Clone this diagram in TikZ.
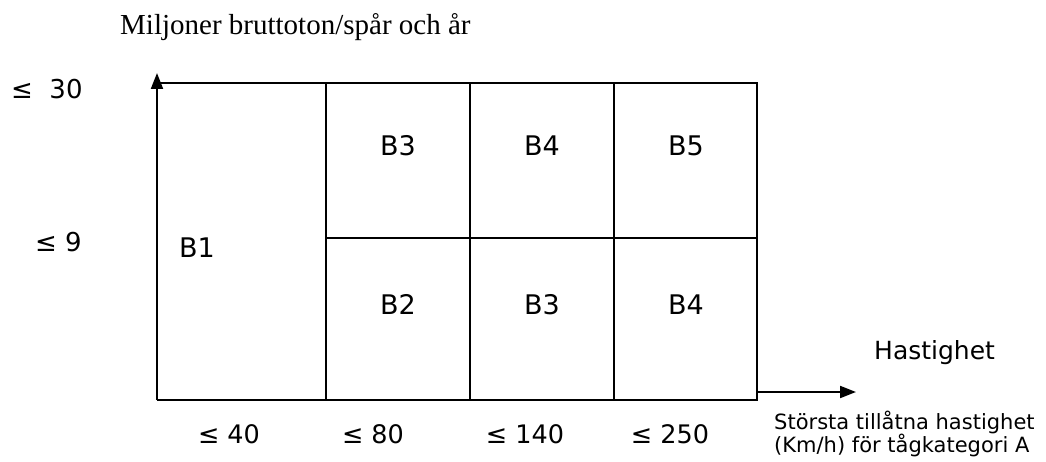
\documentclass[tikz,border=0pt]{standalone}
\usepackage{fontspec}
\setmainfont{DejaVu Sans}
\newfontfamily\titlefont{Liberation Serif}
\usetikzlibrary{arrows.meta}
\begin{document}
\begin{tikzpicture}[x=1pt,y=-1pt,
  gridline/.style={line width=2pt},
  axisarrow/.style={line width=2pt,-{Triangle[length=16pt,width=12pt]}},
  cell/.style={inner sep=0pt,anchor=base,font=\fontsize{27}{30}\selectfont},
  ylab/.style={inner sep=0pt,anchor=base west,font=\fontsize{26}{28}\selectfont},
  xlab/.style={inner sep=0pt,anchor=base,font=\fontsize{25.5}{30}\selectfont},
  note/.style={inner sep=0pt,anchor=west,font=\fontsize{21}{23}\selectfont,align=left}]
\useasboundingbox (0,0) rectangle (1046,462);
% title
\node[inner sep=0pt,anchor=west,font=\titlefont\fontsize{29}{32}\selectfont] (title) at (120,27) {Miljoner bruttoton/spår och år};
% axis coordinates
\coordinate (o) at (157,400);
\coordinate (ytip) at (157,73);
\coordinate (xs) at (757,392);
\coordinate (xtip) at (856,392);
% grid
\draw[gridline] (157,83) -- (757,83) -- (757,400) -- (157,400);
\draw[gridline] (326,83) -- (326,400);
\draw[gridline] (470,83) -- (470,400);
\draw[gridline] (614,83) -- (614,400);
\draw[gridline] (326,238) -- (757,238);
% axes
\draw[axisarrow] (o) -- (ytip);
\draw[axisarrow] (xs) -- (xtip);
% cell labels
\node[cell] (b1) at (197,258) {B1};
\node[cell] (b3a) at (398,156) {B3};
\node[cell] (b4a) at (542,156) {B4};
\node[cell] (b5) at (686,156) {B5};
\node[cell] (b2) at (398,314) {B2};
\node[cell] (b3b) at (542,314) {B3};
\node[cell] (b4b) at (686,314) {B4};
% y labels
\node[ylab] (y30) at (11,99) {≤\ \ 30};
\node[ylab] (y9) at (35,252) {≤ 9};
% x labels
\node[xlab] (x40) at (229,443) {≤ 40};
\node[xlab] (x80) at (373,443) {≤ 80};
\node[xlab] (x140) at (525,443) {≤ 140};
\node[xlab] (x250) at (670,443) {≤ 250};
% notes
\node[inner sep=0pt,anchor=west,font=\fontsize{25}{28}\selectfont] (hast) at (874,353) {Hastighet};
\node[note] (desc) at (774,434) {Största tillåtna hastighet\\(Km/h) för tågkategori A};
\end{tikzpicture}
\end{document}
